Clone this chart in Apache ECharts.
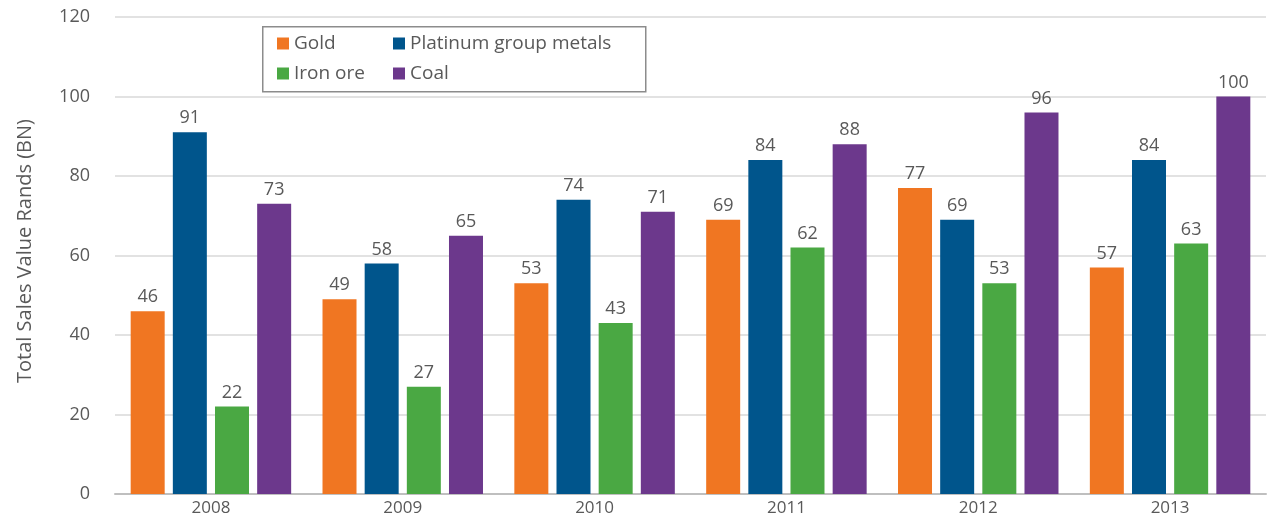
<!DOCTYPE html>
<html>
<head>
<meta charset="utf-8">
<script src="https://cdn.jsdelivr.net/npm/echarts@6/dist/echarts.min.js"></script>
<style>
html,body{margin:0;padding:0;background:#fff;}
#chart{width:1282px;height:522px;}
</style>
</head>
<body>
<div id="chart"></div>
<script>
// Mining sales by commodity, South Africa, 2008-2013 (Rand billions)
const years = ['2008', '2009', '2010', '2011', '2012', '2013'];
const gold = [46, 49, 53, 69, 77, 57];
const platinum = [91, 58, 74, 84, 69, 84];
const ironOre = [22, 27, 43, 62, 53, 63];
const coal = [73, 65, 71, 88, 96, 100];
const yTicks = [0, 20, 40, 60, 80, 100, 120];

const FONT = '"Open Sans", "Liberation Sans", sans-serif';
const TEXT = '#595959';

function bar(name, data, color) {
  return {
    name: name,
    type: 'bar',
    data: data,
    barWidth: 34,
    barGap: '24%',
    itemStyle: { color: color },
    label: {
      show: true,
      position: 'top',
      distance: 5,
      color: TEXT,
      fontFamily: FONT,
      fontSize: 18
    }
  };
}

const legendText = { color: TEXT, fontFamily: FONT, fontSize: 19 };

const chart = echarts.init(document.getElementById('chart'));
chart.setOption({
  animation: false,
  grid: { left: 115, right: 16, top: 17, bottom: 28 },
  xAxis: {
    type: 'category',
    data: years,
    axisTick: { show: false },
    axisLine: { lineStyle: { color: '#BFBFBF', width: 2 } },
    axisLabel: { color: TEXT, fontFamily: FONT, fontSize: 17, margin: 6 }
  },
  yAxis: {
    type: 'value',
    min: yTicks[0],
    max: yTicks[yTicks.length - 1],
    interval: yTicks[1] - yTicks[0],
    name: 'Total Sales Value Rands (BN)',
    nameLocation: 'middle',
    nameGap: 80,
    nameTextStyle: { color: TEXT, fontFamily: FONT, fontSize: 20, padding: [0, 0, 0, 9] },
    axisLine: { show: false },
    axisTick: { show: false },
    axisLabel: { color: TEXT, fontFamily: FONT, fontSize: 18, margin: 25 },
    splitLine: { lineStyle: { color: '#D9D9D9', width: 1.5 } }
  },
  legend: [
    {
      orient: 'vertical',
      left: 272,
      top: 29,
      itemWidth: 12,
      itemHeight: 12,
      itemGap: 11,
      icon: 'rect',
      data: ['Gold', 'Iron ore'],
      textStyle: legendText
    },
    {
      orient: 'vertical',
      left: 388,
      top: 29,
      itemWidth: 12,
      itemHeight: 12,
      itemGap: 11,
      icon: 'rect',
      data: ['Platinum group metals', 'Coal'],
      textStyle: legendText
    }
  ],
  graphic: [
    {
      type: 'rect',
      left: 262,
      top: 26,
      shape: { width: 383, height: 65 },
      style: { fill: '#fff', stroke: '#8C8C8C', lineWidth: 1.5 },
      z: 0
    }
  ],
  series: [
    bar('Gold', gold, '#F07622'),
    bar('Platinum group metals', platinum, '#00558C'),
    bar('Iron ore', ironOre, '#4AA843'),
    bar('Coal', coal, '#6C388C')
  ]
});
</script>
</body>
</html>
